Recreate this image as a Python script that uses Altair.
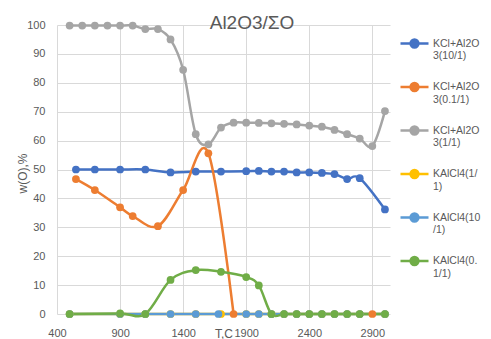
import altair as alt
import pandas as pd

TITLE = "Al2O3/ΣO"
SERIES = ["KCl+Al2O3(10/1)", "KCl+Al2O3(0.1/1)", "KCl+Al2O3(1/1)",
          "KAlCl4(1/1)", "KAlCl4(10/1)", "KAlCl4(0.1/1)"]
LEGEND_LINES = [["KCl+Al2O", "3(10/1)"], ["KCl+Al2O", "3(0.1/1)"], ["KCl+Al2O", "3(1/1)"],
                ["KAlCl4(1/", "1)"], ["KAlCl4(10", "/1)"], ["KAlCl4(0.", "1/1)"]]
COLORS = ["#4472C4", "#ED7D31", "#A5A5A5", "#FFC000", "#5B9BD5", "#70AD47"]

T_blue = [550, 700, 900, 1100, 1300, 1500, 1700, 1900, 2000, 2100, 2200, 2300, 2400,
          2500, 2600, 2700, 2800, 3000]
W_blue = [50.0, 50.0, 50.0, 50.0, 49.0, 49.3, 49.3, 49.4, 49.5, 49.3, 49.3, 49.0, 49.0,
          48.8, 48.4, 46.7, 47.0, 36.2]

T_orange = [550, 700, 900, 1000, 1200, 1400, 1600, 1800, 2900]
W_orange = [46.7, 42.9, 36.9, 33.9, 30.4, 42.9, 55.6, 0.0, 0.0]
S_orange = [0, 0, 0, 0, 0, 0, 0, 0, 1]

T_gray = [500, 600, 700, 800, 900, 1000, 1100, 1200, 1300, 1400, 1500, 1600, 1700, 1800,
          1900, 2000, 2100, 2200, 2300, 2400, 2500, 2600, 2700, 2800, 2900, 3000]
W_gray = [99.8, 99.8, 99.8, 99.8, 99.8, 99.8, 98.6, 98.6, 95.0, 84.5, 62.2, 58.7, 64.5, 66.2,
          66.2, 66.1, 66.0, 65.8, 65.6, 65.2, 64.8, 63.7, 62.2, 60.7, 58.1, 70.2]

T_yellow = [500, 900, 1100, 1300, 1500, 1700, 1900, 2000, 2100, 2200, 2300, 2400, 2500,
            2600, 2700, 2800, 3000]
W_yellow = [0.0] * len(T_yellow)

T_lblue = [500, 900, 1100, 1300, 1500, 1680, 1900, 2000, 2100, 2200, 2300, 2400, 2500,
           2600, 2700, 2800, 3000]
W_lblue = [0.0] * len(T_lblue)

T_green = [500, 900, 1100, 1300, 1500, 1700, 1900, 2000, 2100, 2200, 2300, 2400, 2500,
           2600, 2700, 2800, 3000]
W_green = [0.0, 0.2, 0.0, 11.8, 15.2, 14.6, 12.8, 9.9, 0.0, 0.0, 0.0, 0.0, 0.0,
           0.0, 0.0, 0.0, 0.0]

X_TICKS = [400, 900, 1400, 1900, 2400, 2900]
Y_TICKS = list(range(0, 101, 10))

rows = []
def add(name, ts, ws, segs=None):
    for i, (t, w) in enumerate(zip(ts, ws)):
        rows.append({"series": name, "T": t, "w": w, "seg": (segs[i] if segs else 0)})

add(SERIES[0], T_blue, W_blue)
add(SERIES[1], T_orange, W_orange, S_orange)
add(SERIES[2], T_gray, W_gray)
add(SERIES[3], T_yellow, W_yellow)
add(SERIES[4], T_lblue, W_lblue)
add(SERIES[5], T_green, W_green)
df = pd.DataFrame(rows)

label_expr = ""
for name, lines in zip(SERIES, LEGEND_LINES):
    label_expr += "datum.label == '%s' ? ['%s', '%s'] : " % (name, lines[0], lines[1])
label_expr += "datum.label"

FONT = "Liberation Sans"
TXT = "#595959"
SYM = "M-1,0L1,0M0.28,0A0.28,0.28,0,1,1,-0.28,0A0.28,0.28,0,1,1,0.28,0Z"

W, H = 333, 289

x = alt.X("T:Q", scale=alt.Scale(domain=[400, 3040], nice=False, zero=False),
          axis=alt.Axis(values=X_TICKS, title="T,C", grid=True, ticks=False, tickSize=0,
                        domain=False, labelPadding=13, labelFontSize=11, labelFont=FONT,
                        labelColor=TXT, titleFont=FONT, titleFontSize=12, titleColor=TXT,
                        titleFontWeight="normal", titleY=23, titleBaseline="alphabetic",
                        gridColor="#D9D9D9", format="d", labelFlush=False))
y = alt.Y("w:Q", scale=alt.Scale(domain=[0, 100], nice=False),
          axis=alt.Axis(values=Y_TICKS, title="w(O),%", grid=True, ticks=False, tickSize=0,
                        domain=False, labelPadding=12, labelFontSize=11, labelFont=FONT,
                        labelColor=TXT, titleFont=FONT, titleFontSize=12, titleColor=TXT,
                        titleFontWeight="normal", titleAngle=-90, titleX=-31, titleY=148,
                        titleBaseline="alphabetic", titleAlign="center",
                        gridColor="#D9D9D9"))
color = alt.Color("series:N", scale=alt.Scale(domain=SERIES, range=COLORS),
                  legend=alt.Legend(orient="none", legendX=342, legendY=3, title=None,
                                    symbolType=SYM, symbolSize=784, symbolStrokeWidth=2.5,
                                    labelFont=FONT, labelFontSize=10.5, labelColor=TXT,
                                    labelExpr=label_expr, labelOffset=3, rowPadding=9.5,
                                    padding=0, labelLimit=200))

lines = alt.Chart(df).mark_line(interpolate="cardinal", strokeWidth=2.5).encode(
    x=x, y=y, color=color, detail="seg:N")
points = alt.Chart(df).mark_point(filled=True, size=60, opacity=1).encode(
    x=x, y=y, color=color)
title = alt.Chart(pd.DataFrame({"t": [TITLE]})).mark_text(
    font=FONT, fontSize=19, color=TXT, align="center", baseline="alphabetic").encode(
    text="t:N", x=alt.value(195), y=alt.value(4))

chart = alt.layer(lines, points, title).properties(
    width=W, height=H,
    autosize=alt.AutoSizeParams(type="none"),
    padding={"left": 49, "top": 17, "right": 93, "bottom": 25},
).configure_view(stroke=None)

chart.save("out.html", embed_options={"renderer": "svg", "actions": False})
